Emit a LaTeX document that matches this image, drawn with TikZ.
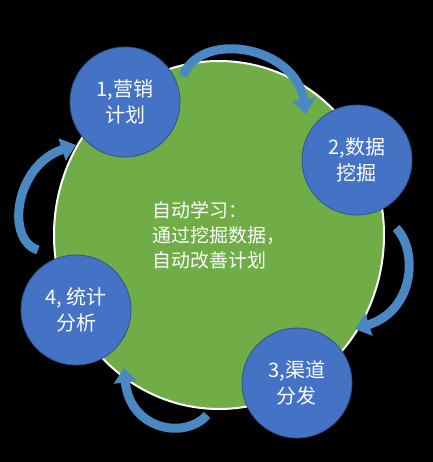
\documentclass[tikz,border=0pt]{standalone}
\usepackage{fontspec}
\setmainfont{Noto Sans CJK SC}
\usetikzlibrary{shapes.geometric,arrows.meta}
\definecolor{loopgreen}{HTML}{70AD47}
\definecolor{stageblue}{HTML}{4472C4}
\definecolor{stageline}{HTML}{2F528F}
\definecolor{arrowblue}{HTML}{4A88C4}
\tikzset{
  stage/.style={circle, fill=stageblue, draw=stageline, line width=0.6pt,
    minimum size=82.5pt, inner sep=0pt, text=white, align=center,
    font=\fontsize{15}{19.5}\selectfont},
  bend arrow/.style={draw=arrowblue, line width=6.75pt,
    -{Triangle[width=17pt,length=11pt]}}
}
\begin{document}
\begin{tikzpicture}[x=0.75pt,y=-0.75pt]
            \fill[black] (0,0) rectangle (433,462);
            % big loop
            \node[ellipse, fill=loopgreen, draw=white, line width=1.5pt,
                minimum width=247.5pt, minimum height=261pt, inner sep=0pt,
                text=white, align=left, font=\fontsize{14.2}{18.75}\selectfont]
                (learn) at (219,235) {自动学习：\\通过挖掘数据，\\自动改善计划};
            % stages
            \node[stage] (plan) at (125,102) {1,营销\\计划};
            \node[stage] (mine) at (357,160) {2,数据\\挖掘};
            \node[stage] (dist) at (297,383) {3,渠道\\分发};
            \node[stage] (stat) at (76,310) {4, 统计\\分析};
            % arrow ends
            \coordinate (plan out) at (183,76);
            \coordinate (mine in) at (306,114);
            \coordinate (mine out) at (396,228);
            \coordinate (dist in) at (355,329);
            \coordinate (dist out) at (207,415);
            \coordinate (stat in) at (124,368);
            \coordinate (stat out) at (38,250);
            \coordinate (plan in) at (76,145);
            \draw[bend arrow] (plan out) .. controls (200,30) and (295,45) .. (mine in);
            \draw[bend arrow] (mine out) .. controls (418,250) and (415,310) .. (dist in);
            \draw[bend arrow] (dist out) .. controls (185,440) and (130,430) .. (stat in);
            \draw[bend arrow] (stat out) .. controls (5,240) and (15,165) .. (plan in);
\end{tikzpicture}
\end{document}
